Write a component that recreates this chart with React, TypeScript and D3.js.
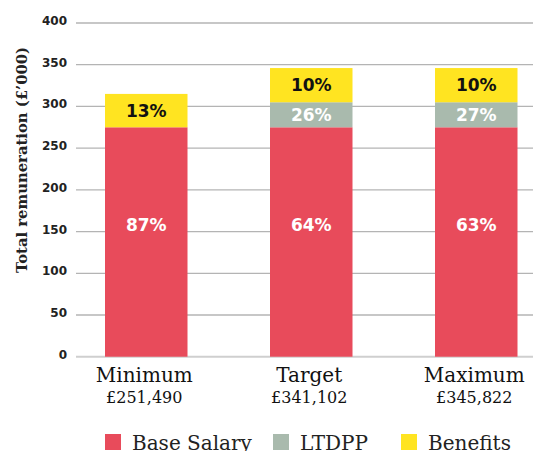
import React from "react";
import * as d3 from "d3";

const categories = ["Minimum", "Target", "Maximum"];
const totalLabels = ["£251,490", "£341,102", "£345,822"];
const baseSalary = [275, 275, 275];
const ltdpp = [0, 30, 30];
const benefits = [40, 41, 41];
const basePct = ["87%", "64%", "63%"];
const ltdppPct = ["", "26%", "27%"];
const benefitsPct = ["13%", "10%", "10%"];
const yTicks = [0, 50, 100, 150, 200, 250, 300, 350, 400];
const seriesNames = ["Base Salary", "LTDPP", "Benefits"];
const seriesColors = ["#E84B5B", "#A9BAAD", "#FFE421"];

const W = 533;
const H = 451;

export default function App() {
  const x = d3
    .scaleBand<string>()
    .domain(categories)
    .range([22.5, 600])
    .paddingInner(0.5)
    .paddingOuter(0.5);
  const y = d3.scaleLinear().domain([0, 400]).range([356.7, 23]);

  const rows = categories.map((c, i) => ({
    cat: c,
    base: baseSalary[i],
    ltdpp: ltdpp[i],
    benefits: benefits[i],
  }));
  const stack = d3.stack<any>().keys(["base", "ltdpp", "benefits"])(rows);
  const pctLabels = [basePct, ltdppPct, benefitsPct];
  const pctColors = ["#ffffff", "#ffffff", "#111111"];

  const legendX = [105, 273, 401];

  return (
    <svg
      width={W}
      height={H}
      style={{ position: "absolute", left: 0, top: 0, background: "#fff" }}
    >
      {yTicks.map((t) => (
        <g key={t}>
          <line
            x1={76}
            x2={W}
            y1={y(t)}
            y2={y(t)}
            stroke={t === 0 ? "#cfcfcf" : "#b4b4b4"}
            strokeWidth={t === 0 ? 2 : 1.3}
          />
          <text
            x={67}
            y={y(t) + 2}
            textAnchor="end"
            fontFamily="DejaVu Sans"
            fontWeight="bold"
            fontSize={12}
            fill="#222"
          >
            {t}
          </text>
        </g>
      ))}
      <text
        transform={`translate(27,160) rotate(-90)`}
        textAnchor="middle"
        fontFamily="DejaVu Serif"
        fontWeight="bold"
        fontSize={14.8}
        fill="#222"
      >
        Total remuneration (£’000)
      </text>
      {stack.map((layer, li) => (
        <g key={li}>
          {layer.map((d, i) => {
            const h = y(d[0]) - y(d[1]);
            if (h <= 0) return null;
            const bx = x(categories[i])!;
            const cy =
              li === 0 ? y(d[1] * 0.575) : (y(d[0]) + y(d[1])) / 2;
            return (
              <g key={i}>
                <rect
                  x={bx}
                  y={y(d[1])}
                  width={x.bandwidth()}
                  height={h}
                  fill={seriesColors[li]}
                />
                <text
                  x={bx + x.bandwidth() / 2}
                  y={cy}
                  dy="0.36em"
                  textAnchor="middle"
                  fontFamily="DejaVu Sans"
                  fontWeight="bold"
                  fontSize={17}
                  fill={pctColors[li]}
                >
                  {pctLabels[li][i]}
                </text>
              </g>
            );
          })}
        </g>
      ))}
      {categories.map((c, i) => (
        <g key={c}>
          <text
            x={x(c)! + x.bandwidth() / 2 - 2}
            y={381.5}
            textAnchor="middle"
            fontFamily="DejaVu Serif"
            fontSize={20}
            fill="#111"
          >
            {c}
          </text>
          <text
            x={x(c)! + x.bandwidth() / 2 - 2}
            y={403}
            textAnchor="middle"
            fontFamily="DejaVu Serif"
            fontSize={16}
            fill="#111"
          >
            {totalLabels[i]}
          </text>
        </g>
      ))}
      {seriesNames.map((s, i) => (
        <g key={s}>
          <rect x={legendX[i]} y={434} width={16} height={16} fill={seriesColors[i]} />
          <text
            x={legendX[i] + 27}
            y={449.5}
            fontFamily="DejaVu Serif"
            fontSize={20}
            fill="#222"
          >
            {s}
          </text>
        </g>
      ))}
    </svg>
  );
}
